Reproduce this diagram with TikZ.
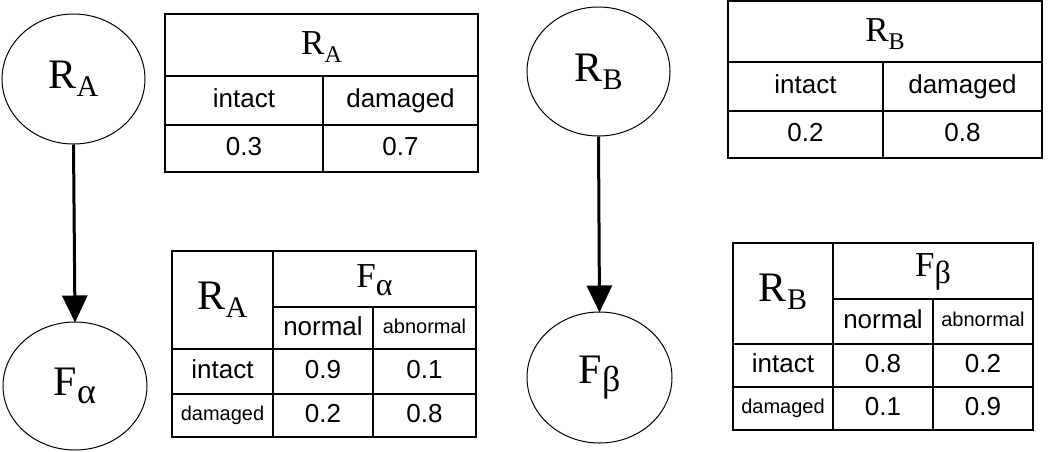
\documentclass[tikz,border=0pt]{standalone}
\usepackage{fontspec}
\setmainfont{Liberation Serif}
\newfontfamily\cellfont{Liberation Sans}
\usetikzlibrary{shapes.geometric,arrows.meta}
\tikzset{
  var/.style={ellipse,draw,line width=1pt,inner sep=0pt},
  link/.style={line width=3pt,-{Triangle[width=25pt,length=27pt]},shorten >=-1pt},
  grid/.style={line width=1.6pt},
  cell/.style={inner sep=0pt,text height=19pt,text depth=5pt,font=\cellfont\fontsize{26}{30}\selectfont},
  smallcell/.style={inner sep=0pt,text height=14.5pt,text depth=4pt,font=\cellfont\fontsize{20}{24}\selectfont},
  big/.style={inner sep=0pt,font=\fontsize{42}{46}\selectfont},
  head/.style={inner sep=0pt,font=\fontsize{35}{40}\selectfont},
}
\newcommand{\subA}[1]{\raisebox{-0.2em}{\fontsize{30}{32}\selectfont #1}}
\newcommand{\subH}[1]{\raisebox{-0.22em}{\fontsize{24}{26}\selectfont #1}}
\begin{document}
\begin{tikzpicture}[x=1pt,y=-1pt]
\useasboundingbox (0,0) rectangle (1050,451);
% --- left network
\node[var,minimum width=143pt,minimum height=130pt] (ra) at (73.5,79) {};
\node[big] (raL) at (ra) {R\subA{A}};
\node[var,minimum width=144pt,minimum height=128pt] (fa) at (75,386) {};
\node[big] (faL) at (fa) {F\subA{\fontsize{36}{38}\selectfont α}};
\draw[link] (ra.south) -- (fa.north);
% --- right network
\node[var,minimum width=143pt,minimum height=129pt] (rb) at (598.5,71.5) {};
\node[big] (rbL) at (rb) {R\subA{B}};
\node[var,minimum width=145pt,minimum height=131pt] (fb) at (599.5,377.5) {};
\node[big] (fbL) at (fb) {F\subA{\fontsize{36}{38}\selectfont β}};
\draw[link] (rb.south) -- (fb.north);
% --- table R_A
\draw[grid] (165,14) rectangle (478,172);
\draw[grid] (165,76) -- (478,76) (165,125) -- (478,125) (323,76) -- (323,172);
\node[head] (tra) at (321.5,47) {R\subH{A}};
\node[cell] (tra1) at (244,100.5) {intact};
\node[cell] (tra2) at (400.5,100.5) {damaged};
\node[cell] (tra3) at (244,148.5) {0.3};
\node[cell] (tra4) at (400.5,148.5) {0.7};
% --- table F_alpha
\draw[grid] (172,251) rectangle (476,437);
\draw[grid] (273,251) -- (273,437) (273,307) -- (476,307) (373,307) -- (373,437)
  (172,349) -- (476,349) (172,394) -- (476,394);
\node[big] (tfaR) at (222.5,300) {R\subA{A}};
\node[head] (tfaH) at (374.5,280) {F\subH{\fontsize{32}{34}\selectfont α}};
\node[cell] (tfa1) at (323,328) {normal};
\node[smallcell] (tfa2) at (424.5,328) {abnormal};
\node[cell] (tfa3) at (222.5,371.5) {intact};
\node[cell] (tfa4) at (323,371.5) {0.9};
\node[cell] (tfa5) at (424.5,371.5) {0.1};
\node[smallcell] (tfa6) at (222.5,415.5) {damaged};
\node[cell] (tfa7) at (323,415.5) {0.2};
\node[cell] (tfa8) at (424.5,415.5) {0.8};
% --- table R_B
\draw[grid] (728,1) rectangle (1042,158);
\draw[grid] (728,62) -- (1042,62) (728,111) -- (1042,111) (883,62) -- (883,158);
\node[head] (trb) at (885,34) {R\subH{B}};
\node[cell] (trb1) at (805.5,86.5) {intact};
\node[cell] (trb2) at (962.5,86.5) {damaged};
\node[cell] (trb3) at (805.5,134.5) {0.2};
\node[cell] (trb4) at (962.5,134.5) {0.8};
% --- table F_beta
\draw[grid] (733,243) rectangle (1033,430);
\draw[grid] (833,243) -- (833,430) (833,299) -- (1033,299) (933,299) -- (933,430)
  (733,344) -- (1033,344) (733,387) -- (1033,387);
\node[big] (tfbR) at (783,292) {R\subA{B}};
\node[head] (tfbH) at (933,272) {F\subH{\fontsize{32}{34}\selectfont β}};
\node[cell] (tfb1) at (883,321.5) {normal};
\node[smallcell] (tfb2) at (983,321.5) {abnormal};
\node[cell] (tfb3) at (783,365.5) {intact};
\node[cell] (tfb4) at (883,365.5) {0.8};
\node[cell] (tfb5) at (983,365.5) {0.2};
\node[smallcell] (tfb6) at (783,408.5) {damaged};
\node[cell] (tfb7) at (883,408.5) {0.1};
\node[cell] (tfb8) at (983,408.5) {0.9};
\end{tikzpicture}
\end{document}
